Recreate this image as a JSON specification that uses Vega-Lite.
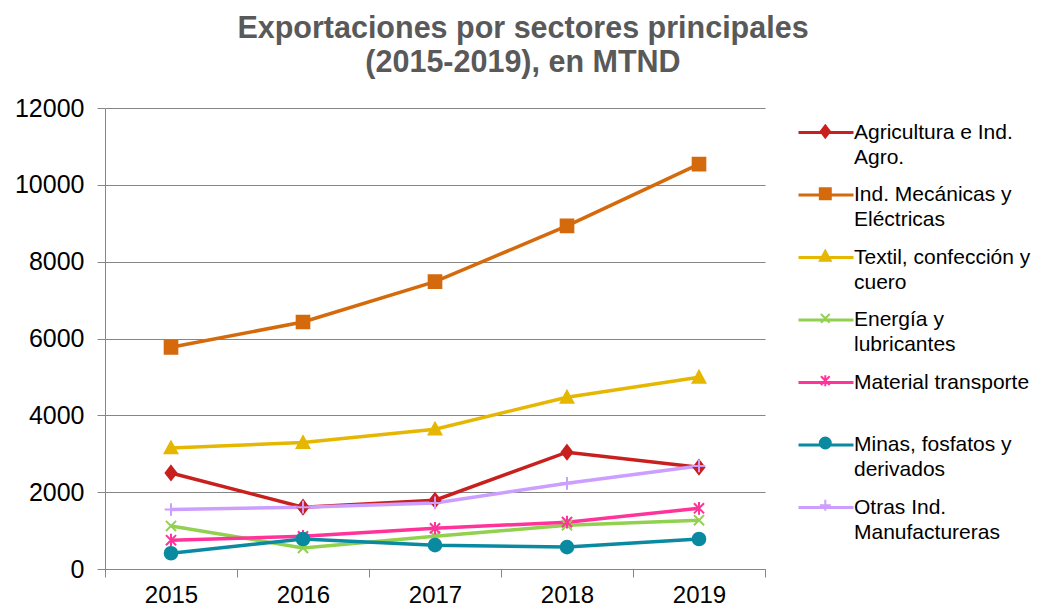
{
  "$schema": "https://vega.github.io/schema/vega-lite/v6.json",
  "width": 660,
  "height": 461,
  "autosize": {"type": "none"},
  "padding": {"left": 105, "top": 108, "right": 296, "bottom": 39},
  "background": "white",
  "title": {
    "text": ["Exportaciones por sectores principales", "(2015-2019), en MTND"],
    "font": "Liberation Sans",
    "fontSize": 30.5,
    "fontWeight": "bold",
    "color": "#595959",
    "anchor": "middle",
    "dx": 88,
    "lineHeight": 34,
    "offset": 18
  },
  "config": {
    "view": {"stroke": null},
    "axis": {
      "labelFont": "Liberation Sans",
      "labelFontSize": 25,
      "labelColor": "#000000",
      "domainColor": "#868686",
      "tickColor": "#868686",
      "gridColor": "#868686",
      "tickSize": 8,
      "title": null
    }
  },
  "data": {
    "values": [
      {"year": "2015", "sector": "Agricultura e Ind. Agro.", "value": 2500},
      {"year": "2016", "sector": "Agricultura e Ind. Agro.", "value": 1610},
      {"year": "2017", "sector": "Agricultura e Ind. Agro.", "value": 1790},
      {"year": "2018", "sector": "Agricultura e Ind. Agro.", "value": 3040},
      {"year": "2019", "sector": "Agricultura e Ind. Agro.", "value": 2650},
      {"year": "2015", "sector": "Ind. Mecánicas y Eléctricas", "value": 5770},
      {"year": "2016", "sector": "Ind. Mecánicas y Eléctricas", "value": 6430},
      {"year": "2017", "sector": "Ind. Mecánicas y Eléctricas", "value": 7480},
      {"year": "2018", "sector": "Ind. Mecánicas y Eléctricas", "value": 8930},
      {"year": "2019", "sector": "Ind. Mecánicas y Eléctricas", "value": 10540},
      {"year": "2015", "sector": "Textil, confección y cuero", "value": 3150},
      {"year": "2016", "sector": "Textil, confección y cuero", "value": 3290},
      {"year": "2017", "sector": "Textil, confección y cuero", "value": 3640},
      {"year": "2018", "sector": "Textil, confección y cuero", "value": 4470},
      {"year": "2019", "sector": "Textil, confección y cuero", "value": 4990},
      {"year": "2015", "sector": "Energía y lubricantes", "value": 1120},
      {"year": "2016", "sector": "Energía y lubricantes", "value": 550},
      {"year": "2017", "sector": "Energía y lubricantes", "value": 850},
      {"year": "2018", "sector": "Energía y lubricantes", "value": 1140},
      {"year": "2019", "sector": "Energía y lubricantes", "value": 1270},
      {"year": "2015", "sector": "Material transporte", "value": 750},
      {"year": "2016", "sector": "Material transporte", "value": 850},
      {"year": "2017", "sector": "Material transporte", "value": 1060},
      {"year": "2018", "sector": "Material transporte", "value": 1220},
      {"year": "2019", "sector": "Material transporte", "value": 1580},
      {"year": "2015", "sector": "Minas, fosfatos y derivados", "value": 410},
      {"year": "2016", "sector": "Minas, fosfatos y derivados", "value": 780},
      {"year": "2017", "sector": "Minas, fosfatos y derivados", "value": 620},
      {"year": "2018", "sector": "Minas, fosfatos y derivados", "value": 570},
      {"year": "2019", "sector": "Minas, fosfatos y derivados", "value": 780},
      {"year": "2015", "sector": "Otras Ind. Manufactureras", "value": 1550},
      {"year": "2016", "sector": "Otras Ind. Manufactureras", "value": 1610},
      {"year": "2017", "sector": "Otras Ind. Manufactureras", "value": 1720},
      {"year": "2018", "sector": "Otras Ind. Manufactureras", "value": 2230},
      {"year": "2019", "sector": "Otras Ind. Manufactureras", "value": 2680}
    ]
  },
  "encoding": {
    "x": {
      "field": "year",
      "type": "ordinal",
      "bandPosition": 0.5,
      "scale": {"type": "band", "paddingInner": 0, "paddingOuter": 0},
      "axis": {"tickBand": "extent", "labelAngle": 0, "labelPadding": 6, "labelFontSize": 24, "grid": false}
    },
    "y": {
      "field": "value",
      "type": "quantitative",
      "scale": {"domain": [0, 12000], "nice": false},
      "axis": {"values": [0, 2000, 4000, 6000, 8000, 10000, 12000], "format": "d", "labelPadding": 13, "grid": true}
    }
  },
  "layer": [
    {
      "mark": {"type": "line", "strokeWidth": 3.5},
      "encoding": {
        "color": {
          "field": "sector",
          "type": "nominal",
          "scale": {
            "domain": ["Agricultura e Ind. Agro.", "Ind. Mecánicas y Eléctricas", "Textil, confección y cuero", "Energía y lubricantes", "Material transporte", "Minas, fosfatos y derivados", "Otras Ind. Manufactureras"],
            "range": ["#C8201E", "#D46A0C", "#E5B700", "#92D050", "#FF3399", "#0A8AA0", "#CC9EFF"]
          },
          "legend": {
            "title": null,
            "orient": "none",
            "legendX": 692,
            "legendY": 13,
            "symbolSize": 400,
            "symbolStrokeWidth": 3,
            "labelFont": "Liberation Sans",
            "labelFontSize": 21,
            "labelColor": "#000000",
            "labelLimit": 400,
            "labelOffset": 34,
            "rowPadding": 15.5,
            "labelExpr": "datum.label == 'Agricultura e Ind. Agro.' ? ['Agricultura e Ind.', 'Agro.'] : datum.label == 'Ind. Mecánicas y Eléctricas' ? ['Ind. Mecánicas y', 'Eléctricas'] : datum.label == 'Textil, confección y cuero' ? ['Textil, confección y', 'cuero'] : datum.label == 'Energía y lubricantes' ? ['Energía y', 'lubricantes'] : datum.label == 'Material transporte' ? ['Material transporte', ' '] : datum.label == 'Minas, fosfatos y derivados' ? ['Minas, fosfatos y', 'derivados'] : ['Otras Ind.', 'Manufactureras']",
            "encode": {
              "symbols": {
                "update": {
                  "shape": {"value": "M-1,0H4.5"},
                  "strokeWidth": {"value": 3},
                  "size": {"value": 400}
                }
              },
              "labels": {
                "update": {
                  "lineHeight": {"value": 25}
                }
              }
            }
          }
        }
      }
    },
    {
      "mark": {"type": "point", "filled": true, "size": 160, "strokeWidth": 2, "opacity": 1},
      "encoding": {
        "fill": {
          "field": "sector",
          "type": "nominal",
          "scale": {
            "domain": ["Agricultura e Ind. Agro.", "Ind. Mecánicas y Eléctricas", "Textil, confección y cuero", "Energía y lubricantes", "Material transporte", "Minas, fosfatos y derivados", "Otras Ind. Manufactureras", "·"],
            "range": ["#C8201E", "#D46A0C", "#E5B700", "#92D050", "#FF3399", "#0A8AA0", "#CC9EFF", "transparent"]
          },
          "legend": {
            "title": null, "orient": "none", "legendX": 709.8, "legendY": 13,
            "symbolSize": 120, "symbolStrokeWidth": 2,
            "labelFont": "Liberation Sans", "labelFontSize": 21, "labelOpacity": 0, "labelLimit": 400, "labelOffset": 34, "rowPadding": 17.3,
            "labelExpr": "[' ', ' ']",
            "encode": {"labels": {"update": {"lineHeight": {"value": 25}}}}
          }
        },
        "stroke": {
          "field": "sector",
          "type": "nominal",
          "scale": {
            "domain": ["Agricultura e Ind. Agro.", "Ind. Mecánicas y Eléctricas", "Textil, confección y cuero", "Energía y lubricantes", "Material transporte", "Minas, fosfatos y derivados", "Otras Ind. Manufactureras", "·"],
            "range": ["#C8201E", "#D46A0C", "#E5B700", "#92D050", "#FF3399", "#0A8AA0", "#CC9EFF", "transparent"]
          },
          "legend": {
            "title": null, "orient": "none", "legendX": 709.8, "legendY": 13,
            "symbolSize": 120, "symbolStrokeWidth": 2,
            "labelFont": "Liberation Sans", "labelFontSize": 21, "labelOpacity": 0, "labelLimit": 400, "labelOffset": 34, "rowPadding": 17.3,
            "labelExpr": "[' ', ' ']",
            "encode": {"labels": {"update": {"lineHeight": {"value": 25}}}}
          }
        },
        "shape": {
          "field": "sector",
          "type": "nominal",
          "scale": {
            "domain": ["Agricultura e Ind. Agro.", "Ind. Mecánicas y Eléctricas", "Textil, confección y cuero", "Energía y lubricantes", "Material transporte", "Minas, fosfatos y derivados", "Otras Ind. Manufactureras", "·"],
            "range": ["M0,-1.1L0.85,0L0,1.1L-0.85,0Z", "M-1,-1H1V1H-1Z", "M0,-1L1,0.85L-1,0.85Z", "M-0.8,-0.8L0.8,0.8M-0.8,0.8L0.8,-0.8", "M-0.8,-0.8L0.8,0.8M-0.8,0.8L0.8,-0.8M0,-1V1", "circle", "M-1,0H1M0,-1V1", "M0,0"]
          },
          "legend": {
            "title": null, "orient": "none", "legendX": 709.8, "legendY": 13,
            "symbolSize": 120, "symbolStrokeWidth": 2,
            "labelFont": "Liberation Sans", "labelFontSize": 21, "labelOpacity": 0, "labelLimit": 400, "labelOffset": 34, "rowPadding": 17.3,
            "labelExpr": "[' ', ' ']",
            "encode": {"labels": {"update": {"lineHeight": {"value": 25}}}}
          }
        }
      }
    }
  ]
}
